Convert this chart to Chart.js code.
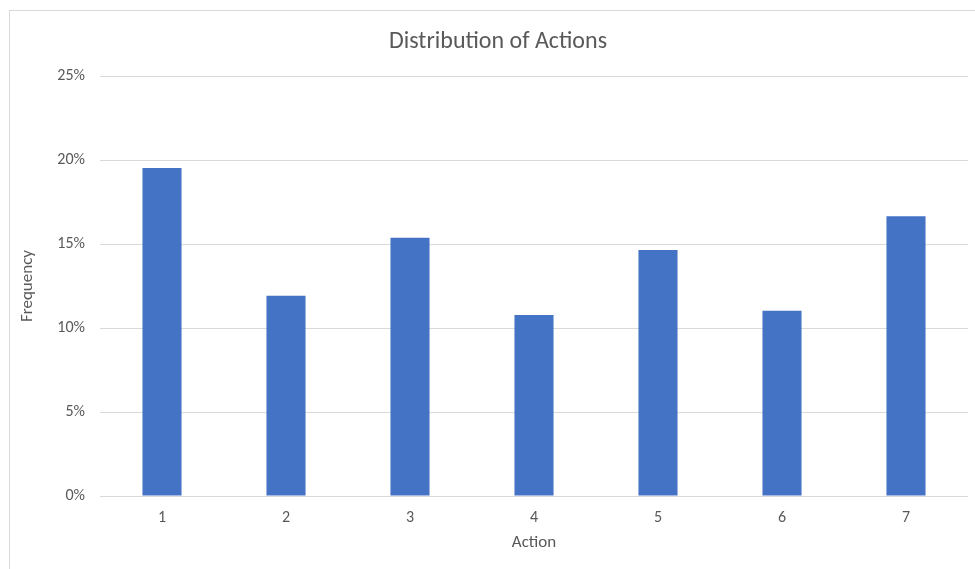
<!DOCTYPE html>
<html>
<head>
<meta charset="utf-8">
<script src="https://cdn.jsdelivr.net/npm/chart.js@4.4.1/dist/chart.umd.min.js"></script>
<style>
  html, body { margin: 0; padding: 0; background: #ffffff; }
  #wrap { position: relative; width: 975px; height: 569px; }
</style>
</head>
<body>
<div id="wrap"><canvas id="chart" width="975" height="569"></canvas></div>
<script>
// Action categories and their share of all actions (percent)
const actions = ['1', '2', '3', '4', '5', '6', '7'];
const frequency = [19.52, 11.92, 15.37, 10.77, 14.64, 11.03, 16.65];
const yTicks = [0, 5, 10, 15, 20, 25];
const chartTitle = 'Distribution of Actions';

const FONT = "Carlito, Lato, 'Liberation Sans', sans-serif";
const GREY_TEXT = '#595959';
const GRID = '#d9d9d9';

// The chart object's frame runs a little past the canvas on the right
// and the bottom; the heading is centred on that frame.
const FRAME = { left: 9, top: 10, right: 987, bottom: 600 };

const framePlugin = {
  id: 'frame',
  beforeDraw(chart) {
    const ctx = chart.ctx;
    ctx.save();
    ctx.fillStyle = '#ffffff';
    ctx.fillRect(0, 0, chart.width, chart.height);
    ctx.strokeStyle = GRID;
    ctx.lineWidth = 1;
    ctx.strokeRect(FRAME.left + 0.5, FRAME.top + 0.5,
      FRAME.right - FRAME.left, FRAME.bottom - FRAME.top);
    ctx.restore();
  },
  afterDraw(chart) {
    const ctx = chart.ctx;
    ctx.save();
    ctx.fillStyle = GREY_TEXT;
    ctx.font = '24px ' + FONT;
    ctx.textAlign = 'center';
    ctx.textBaseline = 'middle';
    ctx.fillText(chartTitle, (FRAME.left + FRAME.right) / 2, 42);
    ctx.restore();
  }
};

const tickFont = { family: FONT, size: 16 };

new Chart(document.getElementById('chart'), {
  type: 'bar',
  data: {
    labels: actions,
    datasets: [{
      label: 'Frequency',
      data: frequency,
      backgroundColor: '#4472C4',
      borderWidth: 0,
      categoryPercentage: 1.0,
      barPercentage: 0.315
    }]
  },
  options: {
    responsive: false,
    animation: false,
    layout: { padding: { left: 0, right: 7, top: 76, bottom: 0 } },
    plugins: {
      legend: { display: false },
      tooltip: { enabled: false },
      title: { display: false }
    },
    scales: {
      x: {
        grid: { display: false, drawTicks: false },
        border: { display: false },
        ticks: {
          color: GREY_TEXT,
          font: tickFont,
          padding: 12
        },
        title: {
          display: true,
          text: 'Action',
          color: GREY_TEXT,
          font: { family: FONT, size: 17 },
          padding: { top: 4, bottom: 16 }
        },
        afterFit(scale) { scale.height = 73; }
      },
      y: {
        min: 0,
        max: 25,
        afterBuildTicks(scale) {
          scale.ticks = yTicks.map(v => ({ value: v }));
        },
        grid: { color: GRID, lineWidth: 1, drawTicks: false },
        border: { display: false },
        ticks: {
          color: GREY_TEXT,
          font: tickFont,
          padding: 15,
          callback: v => v + '%'
        },
        title: {
          display: true,
          text: 'Frequency',
          color: GREY_TEXT,
          font: { family: FONT, size: 17 },
          padding: { top: 18, bottom: 4 }
        },
        afterFit(scale) { scale.width = 100; }
      }
    }
  },
  plugins: [framePlugin]
});
</script>
</body>
</html>
